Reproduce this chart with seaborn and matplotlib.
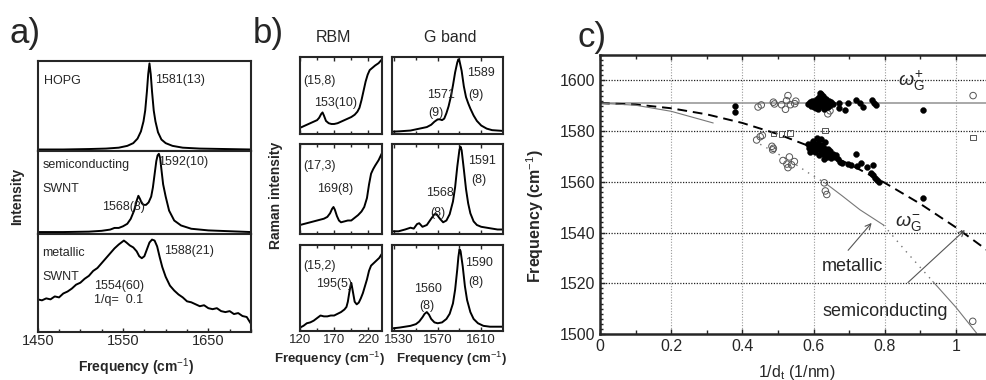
import numpy as np
import pandas as pd
import seaborn as sns
import matplotlib.pyplot as plt
from matplotlib.ticker import MultipleLocator, FixedLocator, FixedFormatter, NullLocator

# ---------------- panel a: G band spectra (normalised intensity) ----------------
hopg_x = [1450, 1480, 1510, 1530, 1545, 1555, 1562, 1567, 1571, 1574, 1576, 1578, 1579.5, 1581,
          1582.5, 1584, 1586, 1588, 1591, 1595, 1600, 1608, 1620, 1640, 1670, 1700]
hopg_y = [0.02, 0.02, 0.025, 0.03, 0.04, 0.06, 0.09, 0.14, 0.22, 0.33, 0.45, 0.66, 0.85, 0.97,
          0.85, 0.66, 0.45, 0.33, 0.21, 0.13, 0.09, 0.06, 0.04, 0.03, 0.025, 0.02]

semi_x = [1450, 1480, 1510, 1525, 1535, 1540, 1545, 1550, 1555, 1559, 1563, 1566, 1568, 1570, 1572,
          1574, 1577, 1580, 1583, 1585, 1587, 1589, 1590.5, 1592, 1593.5, 1595, 1597, 1600, 1604,
          1610, 1618, 1630, 1650, 1675, 1700]
semi_y = [0.02, 0.02, 0.025, 0.035, 0.05, 0.07, 0.07, 0.09, 0.12, 0.18, 0.28, 0.40, 0.46, 0.42, 0.37,
          0.35, 0.35, 0.38, 0.45, 0.56, 0.72, 0.88, 0.95, 0.97, 0.92, 0.78, 0.60, 0.45, 0.28,
          0.16, 0.10, 0.06, 0.04, 0.03, 0.02]

met_x = [1450, 1455, 1460, 1465, 1470, 1475, 1480, 1485, 1490, 1495, 1500, 1505, 1510, 1515, 1520,
         1525, 1530, 1535, 1540, 1545, 1548, 1551, 1554, 1558, 1562, 1566, 1569, 1572, 1575, 1578,
         1581, 1584, 1587, 1590, 1593, 1596, 1600, 1605, 1610, 1615, 1620, 1625, 1630, 1635, 1640,
         1645, 1650, 1655, 1660, 1665, 1670, 1675, 1680, 1685, 1690, 1695, 1700]
met_y = [0.33, 0.32, 0.34, 0.33, 0.36, 0.35, 0.39, 0.41, 0.44, 0.48, 0.50, 0.54, 0.57, 0.62, 0.65,
         0.70, 0.75, 0.80, 0.85, 0.89, 0.91, 0.93, 0.91, 0.88, 0.86, 0.82, 0.77, 0.75, 0.77, 0.84,
         0.91, 0.94, 0.93, 0.87, 0.76, 0.66, 0.56, 0.47, 0.42, 0.38, 0.35, 0.31, 0.30, 0.28, 0.26,
         0.27, 0.24, 0.23, 0.24, 0.21, 0.20, 0.21, 0.18, 0.19, 0.16, 0.15, 0.08]

# ---------------- panel b: single nanotube spectra ----------------
rbm1_x = [120, 125, 130, 135, 140, 145, 148, 151, 153, 155, 158, 162, 166, 170, 175, 180, 185, 190,
          195, 200, 204, 207, 210, 213, 216, 219, 222, 226, 230, 235, 240]
rbm1_y = [0.08, 0.10, 0.12, 0.14, 0.16, 0.18, 0.21, 0.26, 0.28, 0.24, 0.17, 0.14, 0.13, 0.13, 0.14,
          0.16, 0.18, 0.20, 0.22, 0.25, 0.29, 0.34, 0.44, 0.56, 0.68, 0.77, 0.83, 0.86, 0.89, 0.92, 0.97]
rbm2_x = [120, 125, 130, 135, 140, 145, 150, 155, 160, 164, 167, 169, 171, 174, 177, 180, 185, 190,
          195, 200, 205, 210, 214, 218, 221, 224, 227, 230, 235, 240]
rbm2_y = [0.10, 0.11, 0.12, 0.13, 0.14, 0.15, 0.16, 0.17, 0.19, 0.23, 0.28, 0.30, 0.27, 0.20, 0.15,
          0.13, 0.14, 0.15, 0.15, 0.18, 0.21, 0.25, 0.30, 0.40, 0.55, 0.67, 0.72, 0.76, 0.82, 0.90]
rbm3_x = [120, 125, 130, 135, 140, 145, 150, 155, 160, 165, 170, 175, 180, 185, 188, 190, 192, 194,
          195, 196, 198, 200, 203, 206, 209, 212, 215, 218, 221, 224, 228, 232, 236, 240]
rbm3_y = [0.04, 0.06, 0.09, 0.10, 0.12, 0.15, 0.18, 0.17, 0.17, 0.18, 0.18, 0.20, 0.22, 0.25, 0.28,
          0.34, 0.44, 0.53, 0.56, 0.52, 0.43, 0.34, 0.31, 0.33, 0.38, 0.44, 0.52, 0.60, 0.70, 0.76,
          0.79, 0.82, 0.85, 0.90]

g1_x = [1528, 1535, 1540, 1545, 1550, 1555, 1560, 1564, 1567, 1570, 1572, 1574, 1576, 1578, 1580,
        1582, 1584, 1586, 1588, 1589, 1590, 1592, 1594, 1596, 1598, 1600, 1603, 1606, 1610, 1615,
        1620, 1625, 1630]
g1_y = [0.03, 0.035, 0.04, 0.045, 0.06, 0.075, 0.09, 0.12, 0.16, 0.19, 0.19, 0.18, 0.20, 0.27, 0.36,
        0.48, 0.63, 0.80, 0.93, 0.97, 0.95, 0.82, 0.62, 0.48, 0.40, 0.33, 0.24, 0.17, 0.11, 0.07,
        0.05, 0.045, 0.04]
g2_x = [1528, 1534, 1540, 1545, 1548, 1551, 1553, 1556, 1560, 1564, 1567, 1569, 1572, 1575, 1578,
        1581, 1584, 1586, 1588, 1590, 1591, 1592, 1594, 1596, 1598, 1600, 1603, 1606, 1610, 1615,
        1620, 1625, 1630]
g2_y = [0.03, 0.03, 0.05, 0.07, 0.06, 0.11, 0.12, 0.08, 0.10, 0.17, 0.22, 0.22, 0.17, 0.13, 0.15,
        0.22, 0.36, 0.52, 0.75, 0.94, 0.97, 0.93, 0.72, 0.50, 0.34, 0.23, 0.14, 0.10, 0.08, 0.07,
        0.06, 0.05, 0.05]
g3_x = [1528, 1535, 1540, 1545, 1550, 1553, 1556, 1558, 1560, 1562, 1564, 1567, 1570, 1574, 1578,
        1581, 1584, 1586, 1588, 1589, 1590, 1591, 1593, 1595, 1597, 1600, 1603, 1607, 1612, 1618,
        1624, 1630]
g3_y = [0.03, 0.04, 0.05, 0.06, 0.08, 0.11, 0.16, 0.20, 0.22, 0.19, 0.14, 0.10, 0.09, 0.10, 0.14,
        0.20, 0.32, 0.48, 0.72, 0.86, 0.95, 0.93, 0.75, 0.52, 0.36, 0.22, 0.14, 0.09, 0.06, 0.05,
        0.05, 0.05]

# ---------------- panel c: frequency vs 1/dt ----------------
up_fill_x = [0.379, 0.379, 0.585, 0.59, 0.592, 0.597, 0.60, 0.603, 0.605, 0.608, 0.61, 0.612, 0.615,
             0.617, 0.62, 0.622, 0.624, 0.626, 0.628, 0.63, 0.632, 0.634, 0.636, 0.638, 0.64, 0.643,
             0.646, 0.65, 0.654, 0.618, 0.626, 0.60, 0.595, 0.613, 0.67, 0.672, 0.688, 0.697, 0.72,
             0.73, 0.738, 0.765, 0.77, 0.776, 0.907]
up_fill_y = [1590, 1587.4, 1590.5, 1591.5, 1589.8, 1590.8, 1592, 1590, 1591.2, 1589.2, 1592.5, 1590.6,
             1593.5, 1591.5, 1589.8, 1594.5, 1592.3, 1590.4, 1588.8, 1593, 1591.4, 1589.6, 1592.6,
             1590.8, 1589.5, 1591.8, 1590.2, 1591.5, 1590.5, 1595, 1594, 1589.5, 1591.9, 1588.8,
             1591.2, 1589, 1588.3, 1591, 1592.2, 1591, 1589.5, 1592.3, 1591, 1590.2, 1588.5]
up_open_x = [0.444, 0.453, 0.487, 0.49, 0.51, 0.521, 0.524, 0.528, 0.535, 0.547, 0.55, 0.64, 0.646, 1.048]
up_open_y = [1589.5, 1590.3, 1591.4, 1590.7, 1590.4, 1588.6, 1592, 1594, 1590.4, 1590.8, 1591.8,
             1586.8, 1588, 1594]

lo_fill_x = [0.585, 0.588, 0.592, 0.595, 0.598, 0.60, 0.603, 0.606, 0.609, 0.612, 0.614, 0.617, 0.62,
             0.622, 0.625, 0.627, 0.63, 0.633, 0.635, 0.638, 0.641, 0.644, 0.647, 0.65, 0.655, 0.66,
             0.664, 0.61, 0.59, 0.628, 0.669, 0.675, 0.68, 0.696, 0.705, 0.72, 0.722, 0.734, 0.75,
             0.766, 0.76, 0.766, 0.772, 0.778, 0.784, 0.908]
lo_fill_y = [1575, 1573.5, 1574.8, 1572.4, 1576, 1573.3, 1571.6, 1574.5, 1572.8, 1575.5, 1570.5,
             1573.8, 1576.8, 1572, 1574.6, 1570.9, 1573.2, 1575.8, 1571.8, 1569.6, 1573, 1570.4,
             1572.2, 1569.4, 1571, 1569.8, 1570.6, 1577.2, 1571.9, 1568.8, 1569, 1568, 1567.4, 1567,
             1566.6, 1570.8, 1566.3, 1567.4, 1566, 1566.6, 1563.6, 1562.6, 1561.6, 1560.8, 1560, 1553.8]
lo_open_x = [0.44, 0.45, 0.456, 0.483, 0.485, 0.487, 0.514, 0.525, 0.532, 0.546, 0.528, 0.538,
             0.63, 0.633, 0.637, 1.047]
lo_open_y = [1576.5, 1577.8, 1578.3, 1574, 1572.6, 1573.2, 1568.4, 1567, 1569.8, 1568, 1565.6,
             1566.7, 1559.6, 1556.4, 1555, 1505]
sq_x = [0.487, 0.51, 0.534, 0.632, 1.047]
sq_y = [1579, 1578.9, 1579.3, 1580.2, 1577.4]

# fitted curves
dash_x = [0, 0.1, 0.2, 0.3, 0.4, 0.5, 0.6, 0.7, 0.8, 0.9, 1.0, 1.088]
dash_y = [1591, 1590.5, 1589, 1586.6, 1583.2, 1578.8, 1573.4, 1567, 1559.6, 1551.3, 1542, 1533]
thin_segments = [  # (x, y, solid?)
    ([0, 0.1, 0.2, 0.318], [1591, 1590.2, 1587.8, 1583.2], True),
    ([0.45, 0.5, 0.55, 0.6, 0.631], [1574.8, 1571, 1566.8, 1562.2, 1559.7], False),
    ([0.631, 0.68, 0.73, 0.796], [1559.7, 1554.5, 1549, 1543], True),
    ([0.796, 0.86, 0.935], [1543, 1532.5, 1520.7], False),
    ([0.935, 1.0, 1.058], [1520.7, 1510.5, 1500.3], True),
]

W, H = 987, 380


def box(l, t, r, b):
    return [l / W, 1 - b / H, (r - l) / W, (b - t) / H]


def fx(x):
    return x / W


def fy(y):
    return 1 - y / H


sns.set_style("ticks")
plt.rcParams['font.family'] = ['Liberation Sans', 'DejaVu Sans']
plt.rcParams['mathtext.fontset'] = 'custom'
plt.rcParams['mathtext.rm'] = 'Liberation Sans'
plt.rcParams['mathtext.it'] = 'Liberation Sans:italic'
plt.rcParams['mathtext.bf'] = 'Liberation Sans:bold'

fig = plt.figure(figsize=(W / 100, H / 100), dpi=100)


def spec_axes(rect, x, y, xlim, tsize):
    ax = fig.add_axes(rect)
    sns.lineplot(x=x, y=y, ax=ax, color='black', lw=1.4, sort=False, estimator=None)
    ax.set_xlim(*xlim)
    ax.set_ylim(0, 1)
    ax.yaxis.set_major_locator(NullLocator())
    ax.set_xlabel('')
    ax.set_ylabel('')
    for s in ax.spines.values():
        s.set_linewidth(1.5)
        s.set_visible(True)
    ax.tick_params(axis='x', direction='in', top=True, bottom=True, length=3, width=1,
                   labelsize=tsize, pad=2)
    ax.tick_params(axis='x', which='minor', direction='in', top=True, bottom=True, length=2.5, width=1)
    return ax


# ---- panel a ----
a_rows = [(60.7, 151.3), (151.3, 233.7), (233.7, 331.7)]
a_data = [(hopg_x, hopg_y), (semi_x, semi_y), (met_x, met_y)]
a_axes = []
for (t, b), (x, y) in zip(a_rows, a_data):
    ax = spec_axes(box(37.7, t, 251, b), x, y, (1450, 1700), 10.5)
    ax.xaxis.set_major_locator(FixedLocator([1450, 1550, 1650]))
    ax.xaxis.set_minor_locator(MultipleLocator(25))
    ax.tick_params(axis='x', which='both', top=False)
    a_axes.append(ax)
for ax in a_axes[:2]:
    ax.tick_params(axis='x', which='both', bottom=False, labelbottom=False)

lab = dict(fontsize=10, fontweight='bold', ha='center', va='center')
fig.text(fx(136), fy(367), 'Frequency (cm$^{-1}$)', **lab)

ann = dict(fontsize=9, ha='left', va='center')
a_axes[0].text(1457, 0.775, 'HOPG', **ann)
a_axes[0].text(1587, 0.786, '1581(13)', **ann)
a_axes[1].text(1456, 0.83, 'semiconducting', **ann)
a_axes[1].text(1456, 0.54, 'SWNT', **ann)
a_axes[1].text(1591, 0.87, '1592(10)', **ann)
a_axes[1].text(1526, 0.32, '1568(8)', **ann)
a_axes[2].text(1455, 0.80, 'metallic', **ann)
a_axes[2].text(1455, 0.56, 'SWNT', **ann)
a_axes[2].text(1598, 0.82, '1588(21)', **ann)
a_axes[2].text(1516, 0.47, '1554(60)', **ann)
a_axes[2].text(1516, 0.32, '1/q=  0.1', **ann)
fig.text(fx(17), fy(196), 'Intensity', rotation=90, **lab)

# ---- panel b ----
b_rows = [(57, 134), (144, 234), (245, 331)]
rbm_data = [(rbm1_x, rbm1_y), (rbm2_x, rbm2_y), (rbm3_x, rbm3_y)]
g_data = [(g1_x, g1_y), (g2_x, g2_y), (g3_x, g3_y)]
rbm_axes, g_axes = [], []
for (t, b), (rx, ry), (gx, gy) in zip(b_rows, rbm_data, g_data):
    ax = spec_axes(box(300, t, 382, b), rx, ry, (120, 240), 9.5)
    ax.xaxis.set_major_locator(FixedLocator([120, 170, 220]))
    ax.xaxis.set_minor_locator(FixedLocator([145, 195]))
    rbm_axes.append(ax)
    ax = spec_axes(box(392, t, 503, b), gx, gy, (1528, 1630), 9.5)
    ax.xaxis.set_major_locator(FixedLocator([1530, 1570, 1610]))
    ax.xaxis.set_major_formatter(FixedFormatter(['', '1570', '1610']))
    ax.xaxis.set_minor_locator(FixedLocator([1550, 1590]))
    g_axes.append(ax)
for ax in rbm_axes[:2] + g_axes[:2]:
    ax.tick_params(axis='x', labelbottom=False)
# left tick label of the G band axis, nudged right so it clears "220"
g_axes[2].annotate('1530', xy=(1530, 0), xycoords=('data', 'axes fraction'), xytext=(3, -2),
                   textcoords='offset points', ha='center', va='top', fontsize=9.5)
fig.text(fx(330), fy(359), 'Frequency (cm$^{-1}$)', **dict(lab, fontsize=9.5))
fig.text(fx(452), fy(359), 'Frequency (cm$^{-1}$)', **dict(lab, fontsize=9.5))

rbm_axes[0].text(125, 0.69, '(15,8)', **ann)
rbm_axes[0].text(140, 0.40, '153(10)', **ann)
rbm_axes[1].text(125, 0.76, '(17,3)', **ann)
rbm_axes[1].text(145, 0.50, '169(8)', **ann)
rbm_axes[2].text(125, 0.75, '(15,2)', **ann)
rbm_axes[2].text(144, 0.55, '195(5)', **ann)
g_axes[0].text(1597, 0.79, '1589', **ann)
g_axes[0].text(1598, 0.51, '(9)', **ann)
g_axes[0].text(1560, 0.51, '1571', **ann)
g_axes[0].text(1561, 0.27, '(9)', **ann)
g_axes[1].text(1598, 0.81, '1591', **ann)
g_axes[1].text(1601, 0.60, '(8)', **ann)
g_axes[1].text(1559, 0.45, '1568', **ann)
g_axes[1].text(1563, 0.23, '(8)', **ann)
g_axes[2].text(1595, 0.79, '1590', **ann)
g_axes[2].text(1598, 0.57, '(8)', **ann)
g_axes[2].text(1548, 0.49, '1560', **ann)
g_axes[2].text(1553, 0.29, '(8)', **ann)
fig.text(fx(334), fy(37), 'RBM', ha='center', va='center', fontsize=11.5)
fig.text(fx(450), fy(37), 'G band', ha='center', va='center', fontsize=11.5)
fig.text(fx(276), fy(195), 'Raman intensity', rotation=90, **lab)

# ---- panel c ----
axc = fig.add_axes(box(600, 55, 1000, 334))
axc.set_xlim(0, 1.1236)
axc.set_ylim(1500, 1610)
for yv in [1520, 1540, 1560, 1580, 1600]:
    axc.axhline(yv, color='#222222', lw=0.9, ls=(0, (1, 1.2)), zorder=0)
for xv in [0.2, 0.4, 0.6, 0.8, 1.0]:
    axc.axvline(xv, color='#999999', lw=0.8, ls=(0, (1, 1.5)), zorder=0)
axc.axhline(1591, color='#9a9a9a', lw=1.2, zorder=1)
sns.lineplot(x=dash_x, y=dash_y, ax=axc, color='black', lw=1.4, ls=(0, (5, 3)),
             sort=False, estimator=None, zorder=2)
for sx, sy, solid in thin_segments:
    sns.lineplot(x=sx, y=sy, ax=axc, color='#777777', lw=0.8 if solid else 1.0,
                 ls='-' if solid else (0, (1, 4)), sort=False, estimator=None, zorder=2)
sns.scatterplot(x=up_fill_x, y=up_fill_y, ax=axc, marker='o', s=18, color='black',
                edgecolor='black', linewidth=0.3, zorder=4)
sns.scatterplot(x=lo_fill_x, y=lo_fill_y, ax=axc, marker='o', s=18, color='black',
                edgecolor='black', linewidth=0.3, zorder=4)
sns.scatterplot(x=up_open_x + lo_open_x, y=up_open_y + lo_open_y, ax=axc, marker='o', s=22,
                facecolor='none', edgecolor='#555555', linewidth=0.7, zorder=3)
sns.scatterplot(x=sq_x, y=sq_y, ax=axc, marker='s', s=16, facecolor='none',
                edgecolor='#555555', linewidth=0.7, zorder=3)

axc.set_xticks([0, 0.2, 0.4, 0.6, 0.8, 1.0])
axc.set_xticklabels(['0', '0.2', '0.4', '0.6', '0.8', '1'])
axc.xaxis.set_minor_locator(MultipleLocator(0.1))
axc.set_yticks([1500, 1520, 1540, 1560, 1580, 1600])
axc.yaxis.set_minor_locator(MultipleLocator(2))
axc.tick_params(axis='both', which='both', direction='in', top=True, labelsize=11.5, width=1)
axc.tick_params(axis='both', which='major', length=3.5)
axc.tick_params(axis='y', which='minor', length=2)
axc.tick_params(axis='x', which='minor', length=3)
for s in ['left', 'bottom', 'top']:
    axc.spines[s].set_linewidth(1.8)
axc.spines['right'].set_visible(False)
fig.text(fx(797), fy(372), '1/d$_\\mathrm{t}$ (1/nm)', ha='center', va='center', fontsize=11.5)
fig.text(fx(535), fy(216), 'Frequency (cm$^{-1}$)', rotation=90, ha='center', va='center',
         fontsize=11.5, fontweight='bold')

axc.text(0.838, 1600, r'$\omega_\mathrm{G}^\mathrm{+}$', fontsize=14, ha='left', va='center')
axc.text(0.83, 1543.5, r'$\omega_\mathrm{G}^\mathrm{-}$', fontsize=14, ha='left', va='center')
axc.text(0.624, 1526.5, 'metallic', fontsize=13, ha='left', va='center')
axc.text(0.624, 1509, 'semiconducting', fontsize=13, ha='left', va='center')
arrow = dict(arrowstyle='->', color='#555555', lw=0.8, shrinkA=0, shrinkB=0)
axc.annotate('', xy=(0.763, 1543.8), xytext=(0.697, 1533), arrowprops=arrow)
axc.annotate('', xy=(1.025, 1541), xytext=(0.865, 1520.3), arrowprops=arrow)

# panel letters
fig.text(fx(10), fy(34), 'a)', fontsize=25, ha='left', va='center')
fig.text(fx(253), fy(33), 'b)', fontsize=25, ha='left', va='center')
fig.text(fx(578), fy(37), 'c)', fontsize=25, ha='left', va='center')

fig.savefig('out.png', dpi=100)
